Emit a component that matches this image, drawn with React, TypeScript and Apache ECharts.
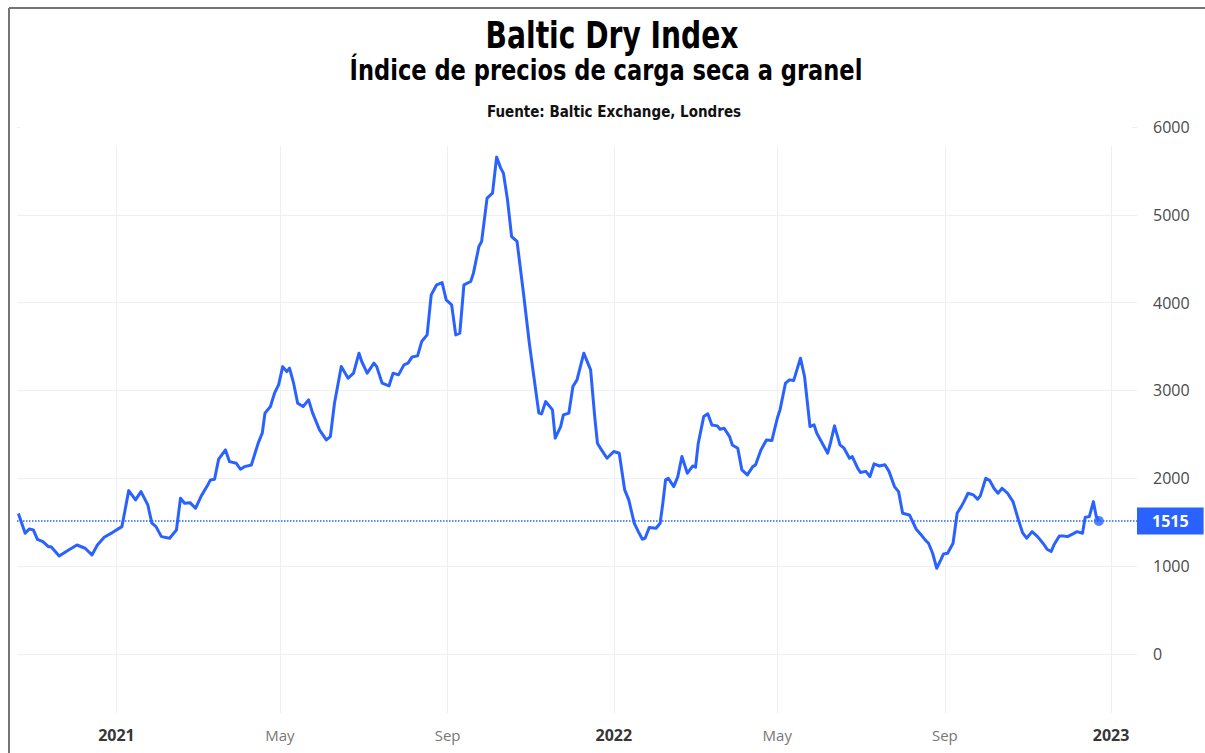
import React, { useEffect, useRef } from 'react';
import * as echarts from 'echarts';

// ---- Data ----
const dates2020 = [
  '2020-10-21', '2020-10-26', '2020-10-29',
  '2020-11-01', '2020-11-04', '2020-11-08', '2020-11-12', '2020-11-14', '2020-11-20', '2020-11-26',
  '2020-12-03', '2020-12-09', '2020-12-14', '2020-12-18', '2020-12-23', '2020-12-29',
];
const values2020 = [
  1600, 1375, 1424,
  1412, 1306, 1279, 1222, 1222, 1116, 1176,
  1241, 1204, 1128, 1241, 1329, 1382,
];

const dates2021 = [
  '2021-01-05', '2021-01-10', '2021-01-15', '2021-01-19', '2021-01-24', '2021-01-27', '2021-01-30',
  '2021-02-03', '2021-02-09', '2021-02-14', '2021-02-17', '2021-02-20', '2021-02-24', '2021-02-28',
  '2021-03-04', '2021-03-09', '2021-03-11', '2021-03-14', '2021-03-17', '2021-03-22', '2021-03-25', '2021-03-30',
  '2021-04-02', '2021-04-05', '2021-04-10', '2021-04-15', '2021-04-18', '2021-04-20', '2021-04-24', '2021-04-27', '2021-04-30',
  '2021-05-03', '2021-05-06', '2021-05-08', '2021-05-11', '2021-05-14', '2021-05-18', '2021-05-22', '2021-05-25', '2021-05-30',
  '2021-06-04', '2021-06-07', '2021-06-10', '2021-06-15', '2021-06-20', '2021-06-24', '2021-06-28', '2021-06-30',
  '2021-07-04', '2021-07-09', '2021-07-11', '2021-07-15', '2021-07-20', '2021-07-23', '2021-07-27', '2021-07-31',
  '2021-08-03', '2021-08-06', '2021-08-10', '2021-08-13', '2021-08-17', '2021-08-20', '2021-08-24', '2021-08-28', '2021-08-31',
  '2021-09-04', '2021-09-07', '2021-09-10', '2021-09-13', '2021-09-18', '2021-09-20', '2021-09-24', '2021-09-26', '2021-09-30',
  '2021-10-04', '2021-10-07', '2021-10-10', '2021-10-12', '2021-10-15', '2021-10-18', '2021-10-22', '2021-10-27', '2021-10-31',
  '2021-11-03', '2021-11-07', '2021-11-09', '2021-11-12', '2021-11-17', '2021-11-19', '2021-11-23', '2021-11-25', '2021-11-29',
  '2021-12-02', '2021-12-05', '2021-12-10', '2021-12-15', '2021-12-18', '2021-12-20', '2021-12-23', '2021-12-27',
];
const values2021 = [
  1450, 1860, 1754, 1849, 1697, 1489, 1450,
  1336, 1318, 1412, 1773, 1716, 1723, 1659,
  1792, 1925, 1982, 1990, 2218, 2323, 2190, 2171,
  2103, 2133, 2152, 2400, 2514, 2742, 2817, 2969, 3064,
  3272, 3215, 3254, 3083, 2855, 2817, 2893, 2742, 2551,
  2437, 2475, 2855, 3272, 3140, 3197, 3425, 3330,
  3197, 3311, 3272, 3083, 3052, 3197, 3178, 3292,
  3311, 3382, 3394, 3557, 3633, 4089, 4203, 4229, 4032,
  3975, 3633, 3653, 4203, 4241, 4336, 4640, 4697, 5190,
  5247, 5657, 5532, 5475, 5171, 4753, 4697, 4070, 3539,
  3197, 2742, 2734, 2874, 2779, 2457, 2589, 2722, 2742,
  3045, 3121, 3425, 3235, 2703, 2400, 2323, 2229,
];

const dates2022 = [
  '2022-01-01', '2022-01-05', '2022-01-09', '2022-01-12', '2022-01-16', '2022-01-19', '2022-01-22', '2022-01-24', '2022-01-27',
  '2022-02-01', '2022-02-04', '2022-02-06', '2022-02-08', '2022-02-10', '2022-02-14', '2022-02-17', '2022-02-20', '2022-02-24', '2022-02-28',
  '2022-03-02', '2022-03-04', '2022-03-08', '2022-03-11', '2022-03-14', '2022-03-18', '2022-03-20', '2022-03-23', '2022-03-27', '2022-03-29',
  '2022-04-02', '2022-04-05', '2022-04-09', '2022-04-13', '2022-04-15', '2022-04-19', '2022-04-23', '2022-04-27',
  '2022-05-01', '2022-05-03', '2022-05-07', '2022-05-10', '2022-05-13', '2022-05-18', '2022-05-21', '2022-05-25', '2022-05-28', '2022-05-30',
  '2022-06-03', '2022-06-07', '2022-06-09', '2022-06-12', '2022-06-16', '2022-06-19', '2022-06-23', '2022-06-25', '2022-06-29',
  '2022-07-01', '2022-07-05', '2022-07-08', '2022-07-11', '2022-07-15', '2022-07-19', '2022-07-22', '2022-07-26', '2022-07-29',
  '2022-08-01', '2022-08-06', '2022-08-11', '2022-08-14', '2022-08-18', '2022-08-20', '2022-08-23', '2022-08-26', '2022-08-29', '2022-08-31',
  '2022-09-03', '2022-09-07', '2022-09-10', '2022-09-13', '2022-09-15', '2022-09-18', '2022-09-22', '2022-09-25', '2022-09-27',
  '2022-10-01', '2022-10-04', '2022-10-07', '2022-10-10', '2022-10-13', '2022-10-17', '2022-10-21', '2022-10-25', '2022-10-28', '2022-10-31',
  '2022-11-04', '2022-11-08', '2022-11-12', '2022-11-15', '2022-11-18', '2022-11-20', '2022-11-24', '2022-11-27', '2022-11-30',
  '2022-12-04', '2022-12-07', '2022-12-11', '2022-12-13', '2022-12-16', '2022-12-19', '2022-12-21', '2022-12-23',
];
const values2022 = [
  2305, 2285, 1868, 1754, 1489, 1393, 1306, 1318, 1441,
  1431, 1489, 1716, 1982, 2001, 1906, 2020, 2248, 2058, 2141,
  2126, 2400, 2703, 2734, 2608, 2597, 2559, 2570, 2475, 2380,
  2343, 2096, 2039, 2133, 2152, 2323, 2437, 2430,
  2684, 2779, 3083, 3121, 3113, 3368, 3159, 2589, 2608, 2514,
  2400, 2286, 2400, 2597, 2380, 2343, 2229, 2248, 2115,
  2067, 2079, 2020, 2164, 2140, 2155, 2079, 1906, 1849,
  1602, 1583, 1420, 1367, 1290, 1261, 1147, 976, 1071, 1139,
  1147, 1261, 1602, 1678, 1735, 1830, 1811, 1762, 1800,
  2001, 1974, 1887, 1830, 1887, 1830, 1735, 1526, 1382, 1318,
  1393, 1336, 1261, 1193, 1166, 1241, 1344, 1344, 1336,
  1367, 1393, 1374, 1556, 1564, 1735, 1572, 1515,
];

const xTickDates = ['2021-01-01', '2021-05-01', '2021-09-01', '2022-01-01', '2022-05-01', '2022-09-01', '2023-01-01'];
const xRange = ['2020-10-20', '2023-01-20'];
const monthNames = ['Jan', 'Feb', 'Mar', 'Apr', 'May', 'Jun', 'Jul', 'Aug', 'Sep', 'Oct', 'Nov', 'Dec'];
const yTicks = [0, 1000, 2000, 3000, 4000, 5000, 6000];

const titleText = 'Baltic Dry Index';
const subtitleText = 'Índice de precios de carga seca a granel';
const sourceText = 'Fuente: Baltic Exchange, Londres';

const BLUE = '#2962ff';
const NARROW_FAMILY = '"DejaVu Sans Condensed", "DejaVu Sans", sans-serif';

// ISO date-only strings are parsed as UTC midnight
const ts = (s: string) => new Date(s + 'T00:00:00Z').getTime();

export default function App() {
  const ref = useRef<HTMLDivElement>(null);

  useEffect(() => {
    if (!ref.current) return;
    const chart = echarts.init(ref.current, null, { renderer: 'svg' });
    const dates = [...dates2020, ...dates2021, ...dates2022];
    const values = [...values2020, ...values2021, ...values2022];
    const data = dates.map((d, i) => [ts(d), values[i]]);
    const last = data[data.length - 1];
    const xTicks = xTickDates.map(ts);

    chart.setOption({
      animation: false,
      backgroundColor: '#ffffff',
      grid: { left: 17, right: 68, top: 127, bottom: 40 },
      xAxis: {
        type: 'value',
        min: ts(xRange[0]),
        max: ts(xRange[1]),
        axisLine: { show: false },
        axisTick: { show: false, customValues: xTicks },
        splitLine: { show: true, lineStyle: { color: '#eceff3', width: 1 } },
        axisLabel: {
          customValues: xTicks,
          margin: 14,
          formatter: (v: number) => {
            const d = new Date(v);
            const m = d.getUTCMonth();
            return m === 0 ? `{y|${d.getUTCFullYear()}}` : `{m|${monthNames[m]}}`;
          },
          rich: {
            y: { fontSize: 16, fontWeight: 'bold', color: '#363636', fontFamily: '"Open Sans", sans-serif' },
            m: { fontSize: 15, color: '#777777', fontFamily: '"Open Sans", sans-serif' },
          },
        },
      },
      yAxis: {
        type: 'value',
        position: 'right',
        min: -672,
        max: 6000,
        axisLine: { show: false },
        axisTick: { show: false, customValues: yTicks },
        splitLine: { show: true, lineStyle: { color: '#eceff3', width: 1 } },
        axisLabel: {
          customValues: yTicks,
          margin: 16,
          color: '#4a4a4a',
          fontSize: 16,
          fontFamily: '"Open Sans", sans-serif',
          formatter: (v: number) => String(v),
        },
      },
      series: [
        {
          type: 'line',
          data,
          showSymbol: false,
          silent: true,
          lineStyle: { color: BLUE, width: 3, join: 'round' },
          itemStyle: { color: BLUE },
          z: 3,
          markLine: {
            silent: true,
            symbol: ['none', 'none'],
            data: [{ yAxis: last[1] }],
            lineStyle: { type: 'dotted', color: BLUE, width: 1.5 },
            label: {
              position: 'end',
              distance: 0,
              formatter: '{c}',
              backgroundColor: BLUE,
              color: '#ffffff',
              fontWeight: 'bold',
              fontSize: 16,
              fontFamily: '"Open Sans", sans-serif',
              padding: [6, 15, 5, 15],
            },
          },
        },
        {
          type: 'scatter',
          data: [last],
          symbol: 'circle',
          symbolSize: 10,
          silent: true,
          itemStyle: { color: BLUE },
          z: 4,
        },
      ],
      graphic: [
        { type: 'rect', z: 50, shape: { x: 20, y: 10, width: 1112, height: 136 }, style: { fill: '#ffffff' } },
        { type: 'line', z: 60, shape: { x1: 9, y1: 8, x2: 1205, y2: 8 }, style: { stroke: '#757575', lineWidth: 2 } },
        { type: 'line', z: 60, shape: { x1: 9, y1: 8, x2: 9, y2: 753 }, style: { stroke: '#757575', lineWidth: 2 } },
        {
          type: 'text', z: 61, x: 612, y: 35, scaleX: 0.845,
          style: { text: titleText, fill: '#000', font: `bold condensed 37px ${NARROW_FAMILY}`, align: 'center', verticalAlign: 'middle' },
        },
        {
          type: 'text', z: 61, x: 606, y: 70, scaleX: 0.865,
          style: { text: subtitleText, fill: '#000', font: `bold condensed 29px ${NARROW_FAMILY}`, align: 'center', verticalAlign: 'middle' },
        },
        {
          type: 'text', z: 61, x: 614, y: 112,
          style: { text: sourceText, fill: '#111', font: `bold condensed 15px ${NARROW_FAMILY}`, align: 'center', verticalAlign: 'middle' },
        },
      ],
    });

    return () => chart.dispose();
  }, []);

  return (
    <div
      ref={ref}
      style={{ position: 'fixed', left: 0, top: 0, width: 1205, height: 753, background: '#fff' }}
    />
  );
}
